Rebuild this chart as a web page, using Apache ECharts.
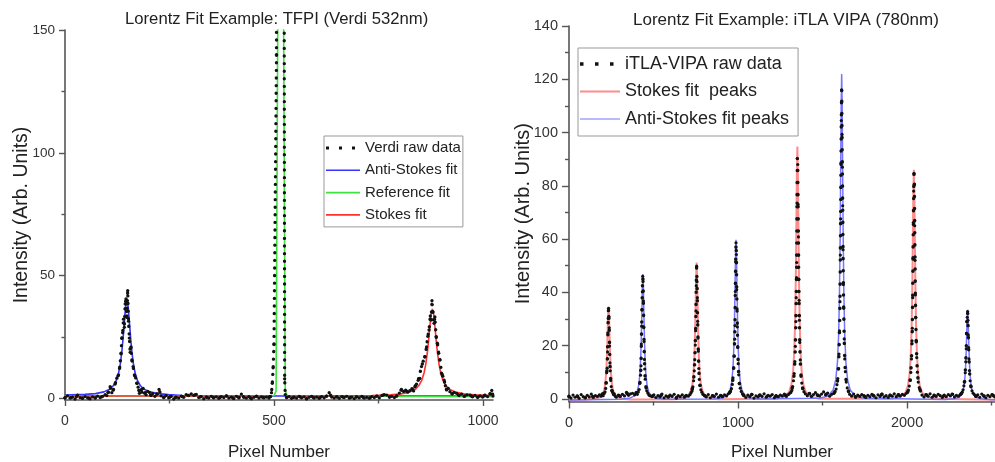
<!DOCTYPE html>
<html><head><meta charset="utf-8">
<script src="https://cdn.jsdelivr.net/npm/echarts@6/dist/echarts.min.js"></script>
<style>html,body{margin:0;padding:0;background:#fff}#c{width:995px;height:462px}</style>
</head><body><div id="c"></div>
<script>
// ---------- text ----------
const leftTitle = 'Lorentz Fit Example: TFPI (Verdi 532nm)';
const rightTitle = 'Lorentz Fit Example: iTLA VIPA (780nm)';
const xName = 'Pixel Number';
const yName = 'Intensity (Arb. Units)';
const leftNames = ['Verdi raw data', 'Anti-Stokes fit', 'Reference fit', 'Stokes fit'];
const rightNames = ['iTLA-VIPA raw data', 'Stokes fit  peaks', 'Anti-Stokes fit peaks'];

// ---------- ticks ----------
const leftXMajor = [0, 500, 1000];
const leftXMinor = [250, 750];
const leftYMajor = [0, 50, 100, 150];
const leftYMinor = [25, 75, 125];
const rightXMajor = [0, 1000, 2000];
const rightXMinor = [500, 1500, 2500];
const rightYMajor = [0, 20, 40, 60, 80, 100, 120, 140];
const rightYMinor = [10, 30, 50, 70, 90, 110, 130];

// ---------- left chart data (pixel, intensity) ----------
const leftRaw = [
[0,0.3],[6,1.1],[12,0.2],[18,0.6],[24,-0.2],[30,1.4],[36,0.4],[42,0.1],[48,0.8],[54,0.3],[60,-0.1],[66,0.7],[72,0.2],[78,1.0],[84,0.4],[90,0.9],[96,1.6],
[100,1.2],[104,2.6],[108,4.8],[112,2.4],[116,3.7],[120,5.9],[124,8.3],[128,9.6],[131,12.8],[134,18.2],[136,24.5],[138,26.8],[140,32.3],[142,29.0],[144,38.5],[146,40.6],[148,33.0],[150,43.9],[152,31.5],[154,24.6],[156,18.8],[158,21.0],[160,15.7],[163,13.0],[166,9.6],[169,8.4],[172,6.2],[175,4.6],[178,2.1],[181,3.4],[184,2.6],[187,4.1],[190,2.2],[194,1.5],[198,2.9],[202,2.5],[206,1.2],[210,2.0],[215,0.9],[220,1.8],[225,3.7],[230,1.1],
[236,0.4],[242,1.2],[248,0.3],[254,0.9],[260,-0.2],[266,0.6],[272,0.2],[278,1.0],[284,0.5],[290,1.6],[296,1.2],[302,1.9],[308,1.3],[314,1.7],[320,0.4],[326,0.8],[332,-0.1],[338,0.6],[344,0.2],[350,0.9],[356,0.3],[362,0.7],[368,0.1],[374,0.8],[380,0.4],[386,1.1],[392,0.2],[398,0.6],[404,0.0],[410,0.9],[416,0.3],[422,1.8],[428,0.5],[434,0.2],[440,0.8],[446,-0.1],[452,0.5],[458,0.9],[464,0.2],[470,0.7],[476,0.3],[482,0.6],[488,0.2],[492,0.8],
[494,2.4],[496,6.2],[498,12.5],[500,22.0],[506,140],[512,1500],[520,1500],[524.5,160],[525.5,8],[527,1.6],
[530,0.4],[536,0.8],[542,0.1],[548,0.6],[554,0.2],[560,0.9],[566,0.3],[572,0.7],[578,-0.1],[584,0.5],[590,0.9],[596,0.2],[602,0.6],[608,0.1],[614,0.8],[620,0.3],[626,1.0],[632,2.4],[638,0.6],[644,0.2],[650,0.7],[656,0.1],[662,0.8],[668,0.4],[674,0.9],[680,0.2],[686,0.6],[692,0.0],[698,0.7],[704,0.3],[710,0.9],[716,0.2],[722,0.5],[728,0.1],[734,0.8],[740,0.4],[746,1.0],[752,0.3],[758,1.2],[764,1.6],[770,1.4],[776,0.6],[782,0.9],[788,0.4],[794,1.1],
[800,2.2],[805,3.7],[810,2.9],[815,3.4],[820,2.6],[825,3.2],[830,4.0],[834,3.1],[837,4.8],[841,5.9],[845,7.4],[849,8.2],[853,13.0],[857,15.2],[861,17.0],[865,21.0],[868,25.3],[871,27.9],[874,33.6],[876,32.0],[878,39.8],[880,35.4],[883,30.6],[885,33.2],[888,25.2],[891,22.5],[894,18.4],[897,15.7],[901,10.3],[904,9.1],[907,7.5],[910,5.2],[913,3.5],[917,4.1],[921,2.8],[926,1.9],[931,2.5],[937,2.1],[943,1.2],[949,1.8],[955,0.9],[962,1.5],[969,1.4],[975,0.7],[981,1.3],[987,0.5],[993,1.1],[999,0.6],[1005,1.4],[1011,0.8],[1017,1.9],[1021,3.3],[1024,1.0]
];
const leftAntiStokesFit = [
[0,1.4],[48,1.7],[73,2.0],[93,2.7],[108,3.9],[116,5.3],[123,7.5],[128,10.3],[132,13.7],[136,19.0],[139,24.6],[142,31.3],[145,37.5],[148,40.2],[151,37.5],[154,31.3],[157,24.6],[160,19.0],[164,13.7],[168,10.3],[173,7.5],[180,5.3],[188,3.9],[203,2.7],[223,2.0],[248,1.6],[280,1.2],[330,1.0],[1024,1.0]
];
const leftReferenceFit = [
[0,1.0],[480,1.0],[500,1.2],[505,3],[510,190],[516,3000],[522,190],[527,3],[532,1.1],[560,1.0],[760,1.0],[800,0.8],[1024,0.7]
];
const leftStokesFit = [
[0,1.0],[495,1.0],[511,'-'],[527,1.0],[579,1.05],[734,1.24],[779,1.5],[804,1.9],[824,2.6],[839,3.9],[847,5.4],[854,7.6],[859,10.4],[863,13.8],[867,18.75],[870,23.7],[873,29.4],[876,34.4],[879,36.5],[882,34.4],[885,29.4],[888,23.7],[891,18.75],[895,13.8],[899,10.4],[904,7.6],[911,5.4],[919,3.9],[934,2.6],[954,1.9],[979,1.5],[1024,1.24]
];

// ---------- right chart data (pixel, intensity) ----------
const rightRaw = [
[0,0.9],[12,0.3],[24,1.4],[36,0.6],[48,1.1],[60,0.2],[72,1.6],[84,0.8],[96,0.4],[108,1.3],[120,0.7],[132,1.8],[144,0.5],[156,1.2],[168,0.9],[180,1.5],[190,1.0],
[196,1.8],[202,1.2],[208,2.0],[213,2.6],[217,3.9],[220,6.1],[223,9.8],[226,11.5],[228,17.6],[230,24.8],[232,30.2],[234,34.0],[236,31.0],[238,26.7],[240,19.8],[242,13.5],[244,10.5],[247,6.9],[250,4.6],[254,3.1],[258,2.4],[263,1.6],[268,1.9],[274,1.0],
[280,0.6],[292,1.4],[304,0.9],[316,1.7],[328,1.1],[340,2.4],[352,1.3],[364,1.9],[376,2.1],[388,1.5],
[398,2.3],[404,1.7],[410,2.6],[415,3.5],[419,5.8],[423,8.9],[426,12.4],[428,20.6],[430,27.3],[432,33.5],[434,40.2],[436,46.0],[438,44.1],[440,36.7],[442,27.0],[444,21.5],[446,14.8],[448,11.2],[451,7.4],[455,4.6],[460,3.0],[466,2.2],[472,1.5],[478,1.2],
[490,0.8],[502,1.5],[514,0.5],[526,1.2],[538,0.7],[550,1.8],[562,0.4],[574,1.1],[586,0.6],[598,1.4],[610,0.9],[622,1.7],[634,0.3],[646,1.2],[658,0.8],[670,1.5],[682,0.6],[694,1.3],[706,1.0],
[716,1.6],[722,2.3],[728,2.9],[733,4.5],[737,6.8],[741,10.5],[744,14.7],[747,20.2],[749,25.6],[751,33.0],[753,42.5],[755,49.8],[757,44.0],[759,38.0],[761,29.1],[763,22.8],[765,17.9],[768,11.4],[771,7.3],[775,5.0],[780,3.4],[786,2.5],[792,1.7],
[800,1.3],[812,0.7],[824,1.6],[836,0.4],[848,1.2],[860,0.9],[872,1.8],[884,0.6],[896,1.3],[908,0.8],[920,1.5],[932,1.1],[942,1.9],
[950,2.2],[956,2.9],[961,3.8],[966,5.4],[970,7.9],[974,11.6],[977,16.0],[980,22.4],[982,27.5],[984,40.3],[986,51.5],[988,58.6],[990,54.2],[992,41.0],[994,33.8],[996,27.0],[998,19.6],[1001,13.2],[1004,9.0],[1008,5.8],[1013,4.0],[1019,2.8],[1026,1.9],
[1034,1.2],[1046,0.5],[1058,1.4],[1070,0.8],[1082,1.7],[1094,0.3],[1106,1.1],[1118,0.7],[1130,1.5],[1142,0.9],[1154,1.9],[1166,0.6],[1178,1.3],[1190,1.0],[1202,1.6],[1214,0.4],[1226,1.2],[1238,0.8],[1250,1.4],[1262,1.1],[1274,1.8],[1286,0.9],[1298,1.6],[1306,2.1],
[1312,2.4],[1318,3.1],[1323,4.6],[1328,6.8],[1332,9.5],[1336,14.0],[1339,19.7],[1342,29.0],[1344,38.0],[1346,45.5],[1347,51.2],[1349,73.5],[1351,90.3],[1353,88.0],[1355,73.0],[1357,60.8],[1359,44.8],[1361,37.0],[1363,29.5],[1365,21.2],[1368,14.6],[1372,9.0],[1377,5.9],[1383,3.8],[1390,2.7],
[1398,1.9],[1410,1.2],[1422,2.0],[1434,0.9],[1446,1.6],[1458,2.3],[1470,1.4],[1482,1.1],[1494,1.8],[1506,2.6],[1518,1.5],[1530,2.2],[1542,1.0],[1554,1.7],[1566,2.0],
[1574,2.8],[1580,3.7],[1585,5.3],[1590,7.6],[1594,11.4],[1597,16.8],[1600,25.5],[1603,36.5],[1605,54.0],[1607,67.6],[1609,88.0],[1611,104.5],[1613,116.0],[1615,99.3],[1617,87.0],[1619,72.5],[1621,56.0],[1623,42.9],[1625,34.0],[1628,22.5],[1631,15.0],[1635,10.2],[1640,6.3],[1646,4.1],[1653,2.9],
[1660,1.7],[1672,1.0],[1684,1.8],[1696,0.6],[1708,1.4],[1720,0.9],[1732,1.6],[1744,1.2],[1756,0.5],[1768,1.3],[1780,0.8],[1792,1.7],[1804,1.1],[1816,0.4],[1828,1.5],[1840,0.9],[1852,1.8],[1864,0.7],[1876,1.2],[1888,0.5],[1900,1.4],[1912,1.0],[1924,1.9],[1936,0.8],[1948,1.5],[1960,1.1],[1972,1.7],[1984,1.3],[1994,2.0],
[2002,2.4],[2008,3.3],[2013,4.8],[2018,6.9],[2022,9.9],[2026,15.0],[2029,21.8],[2031,26.5],[2033,38.0],[2035,53.0],[2037,65.5],[2039,78.0],[2041,84.7],[2043,80.5],[2045,65.0],[2047,52.0],[2049,39.0],[2051,30.5],[2054,22.0],[2057,15.5],[2061,10.0],[2066,6.3],[2072,4.2],[2079,2.9],
[2088,1.4],[2100,0.7],[2112,1.6],[2124,1.0],[2136,1.9],[2148,0.6],[2160,1.3],[2172,0.9],[2184,1.7],[2196,1.2],[2208,0.5],[2220,1.4],[2232,0.8],[2244,1.6],[2256,1.1],[2268,1.8],[2280,0.7],[2292,1.3],[2304,1.0],[2314,1.6],
[2320,1.9],[2326,2.5],[2331,3.4],[2336,4.9],[2340,6.6],[2344,9.8],[2347,13.9],[2350,18.8],[2352,24.6],[2354,29.0],[2356,30.6],[2358,32.8],[2360,29.5],[2362,24.0],[2364,19.2],[2366,15.0],[2369,10.6],[2373,6.8],[2378,4.5],[2384,3.0],[2391,2.1],[2398,1.6],
[2406,0.9],[2418,1.5],[2430,0.6],[2442,1.8],[2454,1.1],[2466,0.4],[2478,1.3],[2490,0.8],[2502,1.6],[2514,1.0],[2520,0.7]
];
const rightStokesFit = [
[0,-0.4],[104,-0.23],[154,0.0],[184,0.7],[199,1.8],[209,3.6],[216,6.6],[221,10.9],[225,17.1],[228,23.8],[231,31.1],[234,34.6],[237,31.1],[240,23.8],[243,17.1],[247,10.9],[252,6.6],[259,3.6],[269,1.8],[284,0.7],[314,0.0],[364,-0.23],
[625,-0.15],[675,0.2],[705,1.2],[720,2.8],[730,5.5],[737,9.9],[742,16.3],[746,25.4],[749,35.2],[752,46.0],[755,51.2],[758,46.0],[761,35.2],[764,25.4],[768,16.3],[773,9.9],[780,5.5],[790,2.8],[805,1.2],[835,0.2],[885,-0.15],
[1221,0.06],[1271,0.8],[1301,2.5],[1316,5.5],[1326,10.5],[1333,18.6],[1338,30.4],[1342,47.2],[1345,65.2],[1348,85.2],[1351,94.7],[1354,85.2],[1357,65.2],[1360,47.2],[1364,30.4],[1369,18.6],[1376,10.5],[1386,5.5],[1401,2.5],[1431,0.8],[1481,0.06],
[1910,0.0],[1960,0.7],[1990,2.3],[2005,5.0],[2015,9.5],[2022,16.9],[2027,27.6],[2031,42.8],[2034,59.2],[2037,77.4],[2040,86.0],[2043,77.4],[2046,59.2],[2049,42.8],[2053,27.6],[2058,16.9],[2065,9.5],[2075,5.0],[2090,2.3],[2120,0.7],[2170,0.0],[2520,-0.35]
];
const rightAntiStokesFit = [
[0,-0.4],[307,-0.17],[357,0.2],[387,1.1],[402,2.5],[412,5.0],[419,9.1],[424,14.9],[428,23.3],[431,32.2],[434,42.2],[437,46.9],[440,42.2],[443,32.2],[446,23.3],[450,14.9],[455,9.1],[462,5.0],[472,2.5],[487,1.1],[517,0.2],[567,-0.17],
[858,-0.1],[908,0.3],[938,1.5],[953,3.3],[963,6.5],[970,11.6],[975,19.1],[979,29.7],[982,41.1],[985,53.7],[988,59.7],[991,53.7],[994,41.1],[997,29.7],[1001,19.1],[1006,11.6],[1013,6.5],[1023,3.3],[1038,1.5],[1068,0.3],[1118,-0.1],
[1483,0.2],[1533,1.1],[1563,3.4],[1578,7.2],[1588,13.7],[1595,24.1],[1600,39.3],[1604,60.8],[1607,84.1],[1610,109.8],[1613,122.0],[1616,109.8],[1619,84.1],[1622,60.8],[1626,39.3],[1631,24.1],[1638,13.7],[1648,7.2],[1663,3.4],[1693,1.1],[1743,0.2],
[2228,-0.24],[2278,0.0],[2308,0.6],[2323,1.7],[2333,3.5],[2340,6.4],[2345,10.6],[2349,16.5],[2352,22.9],[2355,30.0],[2358,33.4],[2361,30.0],[2364,22.9],[2367,16.5],[2371,10.6],[2376,6.4],[2383,3.5],[2393,1.7],[2408,0.6],[2438,0.0],[2488,-0.24],[2520,-0.3]
];

// ---------- styling ----------
const FONT = 'Liberation Sans, Arial, Helvetica, sans-serif';
const AX = '#555';
const TXT = '#222';

function axis(o) {
  const base = {
    type: 'value', gridIndex: o.grid, min: o.min, max: o.max, position: o.pos,
    splitLine: { show: false },
    axisLine: { show: !!o.line, onZero: false, lineStyle: { color: AX, width: 1.6 } },
    axisTick: { show: true, customValues: o.ticks, length: o.tickLen, inside: false, lineStyle: { color: AX, width: 1.4 } },
    axisLabel: o.labels ? { show: true, customValues: o.ticks, margin: o.margin, fontSize: o.fontSize, color: '#333', fontFamily: FONT, formatter: v => String(v) } : { show: false }
  };
  if (o.name) {
    base.name = o.name; base.nameLocation = 'middle'; base.nameGap = o.nameGap;
    base.nameMoveOverlap = false;
    base.nameTextStyle = { fontSize: o.nameSize, color: TXT, fontFamily: FONT };
  }
  return base;
}

const lineIcon = (w, y, h) => `path://M0,0L0,0M${w},14L${w},14M0,${y}h${w}v${h}h-${w}z`;
const dotIcon = (w, s, xs) => `path://M0,0L0,0M${w},14L${w},14` + xs.map(x => `M${x},${7 - s/2}h${s}v${s}h-${s}z`).join('');

const option = {
  animation: false,
  backgroundColor: '#fff',
  textStyle: { fontFamily: FONT },
  title: [
    { text: leftTitle, left: 125, top: 11, padding: 0, textStyle: { fontSize: 16.7, fontWeight: 'normal', color: TXT, fontFamily: FONT } },
    { text: rightTitle, left: 633, top: 12, padding: 0, textStyle: { fontSize: 17, fontWeight: 'normal', color: TXT, fontFamily: FONT } }
  ],
  grid: [
    { left: 65, top: 30, width: 428, height: 370, containLabel: false, outerBoundsMode: 'none' },
    { left: 569, top: 26, width: 426, height: 375.5, containLabel: false, outerBoundsMode: 'none' }
  ],
  xAxis: [
    axis({ grid: 0, min: 0, max: 1024, pos: 'bottom', line: true, ticks: leftXMajor, tickLen: 6, labels: true, margin: 14.5, fontSize: 14, name: xName, nameGap: 44, nameSize: 17 }),
    axis({ grid: 0, min: 0, max: 1024, pos: 'bottom', line: false, ticks: leftXMinor, tickLen: 3.5, labels: false }),
    axis({ grid: 1, min: 0, max: 2520, pos: 'bottom', line: true, ticks: rightXMajor, tickLen: 7, labels: true, margin: 14, fontSize: 14.5, name: xName, nameGap: 42, nameSize: 17 }),
    axis({ grid: 1, min: 0, max: 2520, pos: 'bottom', line: false, ticks: rightXMinor, tickLen: 4, labels: false })
  ],
  yAxis: [
    axis({ grid: 0, min: -0.6, max: 150, pos: 'left', line: true, ticks: leftYMajor, tickLen: 6, labels: true, margin: 10, fontSize: 13.5, name: yName, nameGap: 33, nameSize: 19.5 }),
    axis({ grid: 0, min: -0.6, max: 150, pos: 'left', line: false, ticks: leftYMinor, tickLen: 3.5, labels: false }),
    axis({ grid: 1, min: -1, max: 140, pos: 'left', line: true, ticks: rightYMajor, tickLen: 7, labels: true, margin: 11, fontSize: 14.5, name: yName, nameGap: 36, nameSize: 20 }),
    axis({ grid: 1, min: -1, max: 140, pos: 'left', line: false, ticks: rightYMinor, tickLen: 4, labels: false })
  ],
  legend: [
    {
      orient: 'vertical', left: 324, top: 136, padding: [4, 2, 4, 2], itemGap: 6.3,
      itemWidth: 34, itemHeight: 14, selectedMode: false,
      borderColor: '#999', borderWidth: 1, backgroundColor: '#fff',
      textStyle: { fontSize: 15, lineHeight: 16, color: TXT, fontFamily: FONT },
      data: [
        { name: leftNames[0], icon: dotIcon(34, 3, [0, 13, 26]) },
        { name: leftNames[1], icon: lineIcon(34, 6.2, 1.6) },
        { name: leftNames[2], icon: lineIcon(34, 6.2, 1.6) },
        { name: leftNames[3], icon: lineIcon(34, 6.2, 1.6) }
      ]
    },
    {
      orient: 'vertical', left: 578, top: 48, padding: [6, 9, 7, 2], itemGap: 7.5,
      itemWidth: 40, itemHeight: 14, selectedMode: false,
      borderColor: '#999', borderWidth: 1, backgroundColor: '#fff',
      textStyle: { fontSize: 18, lineHeight: 20, color: TXT, fontFamily: FONT },
      data: [
        { name: rightNames[0], icon: dotIcon(40, 3.5, [0, 15, 30]) },
        { name: rightNames[1], icon: lineIcon(40, 6, 2) },
        { name: rightNames[2], icon: lineIcon(40, 6.5, 1) }
      ]
    }
  ],
  series: [
    { name: leftNames[1], type: 'line', xAxisIndex: 0, yAxisIndex: 0, data: leftAntiStokesFit, symbol: 'none', color: '#3535ff', lineStyle: { width: 1.6 }, silent: true },
    { name: leftNames[2], type: 'line', xAxisIndex: 0, yAxisIndex: 0, data: leftReferenceFit, symbol: 'none', color: '#3ee23e', lineStyle: { width: 1.6 }, silent: true },
    { name: leftNames[3], type: 'line', xAxisIndex: 0, yAxisIndex: 0, data: leftStokesFit, symbol: 'none', color: '#ff3030', lineStyle: { width: 1.6 }, connectNulls: false, silent: true },
    { name: leftNames[0], type: 'line', xAxisIndex: 0, yAxisIndex: 0, data: leftRaw, symbol: 'circle', symbolSize: 3.3, showSymbol: true, color: '#111',
      lineStyle: { width: 3.3, type: [0.1, 7.5], cap: 'round' }, silent: true },

    { name: rightNames[1], type: 'line', xAxisIndex: 2, yAxisIndex: 2, data: rightStokesFit, symbol: 'none', color: '#ff8c8c', lineStyle: { width: 2 }, silent: true },
    { name: rightNames[2], type: 'line', xAxisIndex: 2, yAxisIndex: 2, data: rightAntiStokesFit, symbol: 'none', color: '#7474ff', lineStyle: { width: 1.5 }, silent: true },
    { name: rightNames[0], type: 'line', xAxisIndex: 2, yAxisIndex: 2, data: rightRaw, symbol: 'circle', symbolSize: 3.2, showSymbol: true, color: '#111',
      lineStyle: { width: 3.5, type: [0.1, 12], cap: 'round' }, silent: true }
  ]
};

const chart = echarts.init(document.getElementById('c'), null, { renderer: 'canvas' });
chart.setOption(option);
</script>
</body></html>
